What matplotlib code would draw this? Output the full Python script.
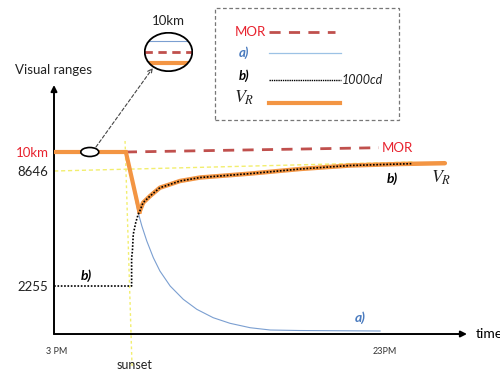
import numpy as np
import matplotlib.pyplot as plt
from matplotlib.patches import Ellipse, Rectangle, ConnectionPatch
from matplotlib.lines import Line2D
from matplotlib.transforms import ScaledTranslation

plt.rcParams['font.family'] = ['Lato', 'DejaVu Sans']
plt.rcParams['mathtext.fontset'] = 'stix'

# axis labels
hour_ticks = [15, 23]
hour_names = ['3 PM', '23PM']
range_ticks = [2255, 8646, 10000]
range_names = ['2255', '8646', '10km']

# V_R in daylight (limited by MOR)
day_t = [14.93, 16.68]
day_vr = [10000, 10000]

# V_R after sunset, following the 1000cd light
rec_t = [17.01, 17.10, 17.27, 17.51, 17.76, 18.00, 18.49, 19.71, 20.93, 22.15, 23.37, 24.46]
rec_vr = [6367, 6884, 7256, 7718, 7906, 8090, 8284, 8501, 8789, 9038, 9145, 9202]

# a) non-luminous target
a_t = [16.68, 16.98, 17.07, 17.19, 17.35, 17.51, 17.76, 18.08, 18.41, 18.81, 19.22,
       19.71, 20.20, 20.93, 22.88]
a_vr = [10000, 6328, 5589, 4756, 3828, 3089, 2255, 1630, 1160, 766, 503,
        296, 188, 164, 141]

# b) 1000cd light
b_t = [14.93, 16.80, 16.82, 16.82, 16.84, 16.86, 16.92, 16.98,
       17.01, 17.10, 17.27, 17.51, 17.76, 18.00, 18.49, 19.71, 20.93, 22.15, 23.37, 23.68]
b_vr = [2255, 2255, 2255, 3828, 4200, 5128, 5773, 6240,
        6367, 6884, 7256, 7718, 7906, 8090, 8284, 8501, 8789, 9038, 9145, 9170]

# MOR
mor_t = [16.68, 22.85]
mor_vr = [10000, 10307]

# guide lines
guide_t = [14.93, 23.68]
guide_vr = [8646, 9287]
sunset_t = [16.66, 16.83]
sunset_vr = [10786, -1503]

# piecewise axis: value -> drawn height
scale_vals = [-5000, 0, 2255, 8646, 10000, 15000]
scale_pos = [-106.4, 0, 48, 163, 182, 252]

ORANGE = '#f39543'
RED = '#c0504d'
TXT_RED = '#e8232f'
BLUE = '#7b9fd1'
BLUE_TXT = '#4a7bbf'
YELLOW = '#f2ee6e'


def fwd(v):
    return np.interp(v, scale_vals, scale_pos)


def inv(p):
    return np.interp(p, scale_pos, scale_vals)


def fy(py):
    return 1 - py / 371


fig = plt.figure(figsize=(5, 3.71), dpi=100)
ax = fig.add_axes([0.108, 0.0997, 0.826, 0.6712])
ax.set_yscale('function', functions=(fwd, inv))
ax.set_xlim(14.927, 25.0)
ax.set_ylim(0, 14786)
for s in ax.spines.values():
    s.set_visible(False)

# axes as arrows
arrow = dict(arrowstyle='-|>', lw=1.4, color='black', mutation_scale=9, shrinkA=0, shrinkB=0)
ax.annotate('', xy=(0, 1), xytext=(0, 0), xycoords='axes fraction', arrowprops=arrow)
ax.annotate('', xy=(1, 0), xytext=(0, 0), xycoords='axes fraction', arrowprops=arrow)

ax.set_xticks(hour_ticks)
ax.set_xticklabels(hour_names, fontsize=6.5, color='#333333')
ax.set_yticks(range_ticks)
ax.set_yticklabels(range_names, fontsize=9.5, color='#222222')
ax.get_yticklabels()[2].set_color(TXT_RED)
ax.tick_params(axis='x', length=0, pad=9)
ax.tick_params(axis='y', length=0, pad=4)
ax.minorticks_off()

# guides
ax.plot(guide_t, guide_vr, color=YELLOW, lw=1.0, ls=(0, (3, 2)), zorder=1)
ax.plot(sunset_t, sunset_vr, color=YELLOW, lw=1.0, ls=(0, (2, 2)), zorder=1, clip_on=False)

# curves
ax.plot(a_t, a_vr, color=BLUE, lw=0.8, zorder=2)
ax.plot(mor_t, mor_vr, color=RED, lw=2.0, ls=(0, (4, 3)), zorder=2)
ax.plot(day_t + [rec_t[0]], day_vr + [rec_vr[0]], color=ORANGE, lw=3, zorder=3,
        solid_joinstyle='miter')
ax.plot(rec_t, rec_vr, color=ORANGE, lw=3.2, zorder=3, solid_capstyle='round')
ax.plot(b_t, b_vr, color='black', lw=1.2, ls=(0, (1, 1)), zorder=4)

# labels on the plot
lab = dict(fontsize=10, fontweight='bold', style='italic', ha='center', va='center')
ax.text(15.71, 2811, 'b)', **lab)
ax.text(23.18, 8200, 'b)', **lab)
ax.text(22.40, 752, 'a)', color=BLUE_TXT, **lab)
ax.text(24.37, 8257, r'$V_R$', fontsize=13, ha='center', va='center', color='#222222')
ax.text(22.93, 10307, 'MOR', fontsize=9.5, color=TXT_RED, ha='left', va='center')
ax.text(16.90, -1456, 'sunset', fontsize=9, color='#222222', ha='center', va='center')
ax.text(1.02, 0, 'time', transform=ax.transAxes, fontsize=10, ha='left', va='center')
fig.text(0.03, fy(70), 'Visual ranges', fontsize=9.5, ha='left', va='center', color='#222222')

# small marker on the daylight segment
mark = Ellipse((0, 0), 0.18, 0.09, facecolor='white', edgecolor='black', lw=1.2, zorder=5,
               transform=fig.dpi_scale_trans + ScaledTranslation(15.80, 10000, ax.transData))
ax.add_artist(mark)

# magnified view
axz = fig.add_axes([0.288, 0.806, 0.098, 0.1078])
axz.set_xlim(0, 1)
axz.set_ylim(0, 1)
axz.axis('off')
clip = Ellipse((0.5, 0.5), 0.97, 0.96, transform=axz.transAxes, facecolor='white',
               edgecolor='none', zorder=1)
axz.add_patch(clip)
for lvl, kw in [(0.78, dict(color=BLUE, lw=0.8)),
                (0.51, dict(color=RED, lw=2.0, ls=(0, (3, 2)))),
                (0.23, dict(color=ORANGE, lw=3))]:
    ln, = axz.plot([0, 1], [lvl, lvl], zorder=2, **kw)
    ln.set_clip_path(clip)
axz.add_patch(Ellipse((0.5, 0.5), 0.97, 0.96, facecolor='none', edgecolor='black', lw=1.3,
                      transform=axz.transAxes, zorder=3))
fig.text(0.336, fy(20.7), '10km', fontsize=9.5, ha='center', va='center', color='#222222')

fig.add_artist(ConnectionPatch(
    xyA=(15.95, 10357), coordsA=ax.transData, xyB=(0.18, 0.10), coordsB=axz.transAxes,
    arrowstyle='->', ls=(0, (3, 2)), lw=0.8, color='#444444', mutation_scale=8))

# legend box
fig.add_artist(Rectangle((0.43, fy(120)), 0.368, 112 / 371, transform=fig.transFigure,
                         facecolor='none', edgecolor='#777777', lw=0.9, ls=(0, (3, 2))))
lx0, lx1 = 269 / 500, 340 / 500

fig.text(235 / 500, fy(31.7), 'MOR', fontsize=9.5, color=TXT_RED, ha='left', va='center')
fig.add_artist(Line2D([lx0, 335 / 500], [fy(32)] * 2, transform=fig.transFigure,
                      color=RED, lw=2.0, ls=(0, (4, 3))))
fig.text(243.5 / 500, fy(53), 'a)', fontsize=9.5, fontweight='bold', style='italic',
         color=BLUE_TXT, ha='center', va='center')
fig.add_artist(Line2D([lx0, 341 / 500], [fy(53)] * 2, transform=fig.transFigure,
                      color='#9cc2e5', lw=0.9))
fig.text(244 / 500, fy(76), 'b)', fontsize=9.5, fontweight='bold', style='italic',
         ha='center', va='center')
fig.add_artist(Line2D([lx0, 341 / 500], [fy(80)] * 2, transform=fig.transFigure,
                      color='black', lw=1.0, ls=(0, (1, 0.6))))
fig.text(342 / 500, fy(80), '1000cd', fontsize=9, style='italic', ha='left', va='center',
         color='#222222')
fig.text(244 / 500, fy(98), r'$V_R$', fontsize=13, ha='center', va='center', color='#222222')
fig.add_artist(Line2D([lx0, lx1], [fy(103.3)] * 2, transform=fig.transFigure,
                      color=ORANGE, lw=3))

fig.savefig('out.png', dpi=100, facecolor='white')
